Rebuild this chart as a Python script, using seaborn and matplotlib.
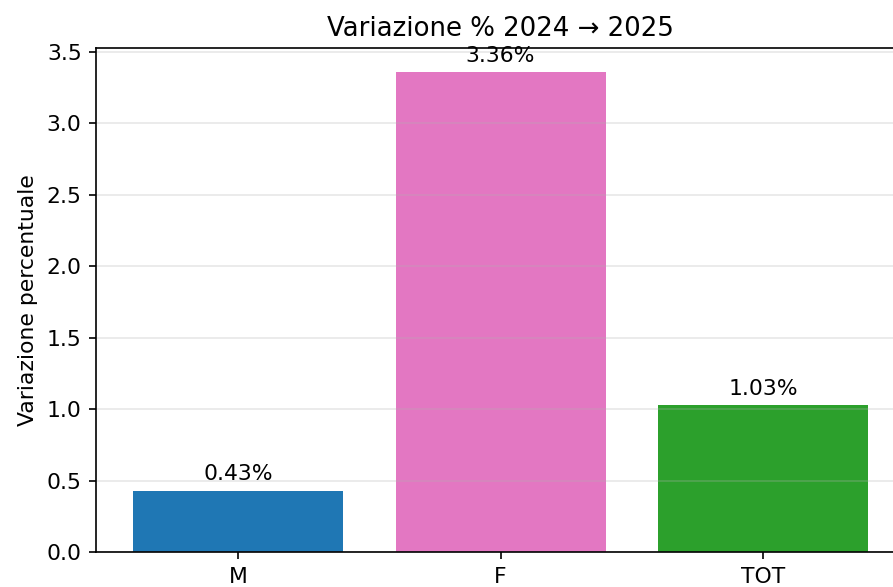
import matplotlib
matplotlib.use("Agg")
import matplotlib.pyplot as plt
import seaborn as sns
import pandas as pd

categories = ["M", "F", "TOT"]
values = [0.43, 3.36, 1.03]
colors = ["#1f77b4", "#e377c2", "#2ca02c"]

df = pd.DataFrame({"gruppo": categories, "variazione": values})

fig = plt.figure(figsize=(893 / 150, 587 / 150), dpi=150)
ax = fig.add_axes([0.1078, 0.0596, 0.9054, 0.8586])

sns.barplot(
    data=df,
    x="gruppo",
    y="variazione",
    hue="gruppo",
    palette=dict(zip(categories, colors)),
    legend=False,
    saturation=1,
    linewidth=0,
    ax=ax,
)
ax.set_xlim(-0.54, 2.54)
ax.set_ylim(0, max(values) * 1.05)
ax.grid(axis="y", alpha=0.3)
ax.set_xlabel("")
ax.set_ylabel("Variazione percentuale", fontsize=10.5)
ax.set_title("Variazione % 2024 → 2025", fontsize=12.5)
ax.tick_params(labelsize=10.5)

for cont in ax.containers:
    ax.bar_label(cont, fmt="%.2f%%", padding=3, fontsize=10.5)

fig.savefig("out.png", dpi=150)
